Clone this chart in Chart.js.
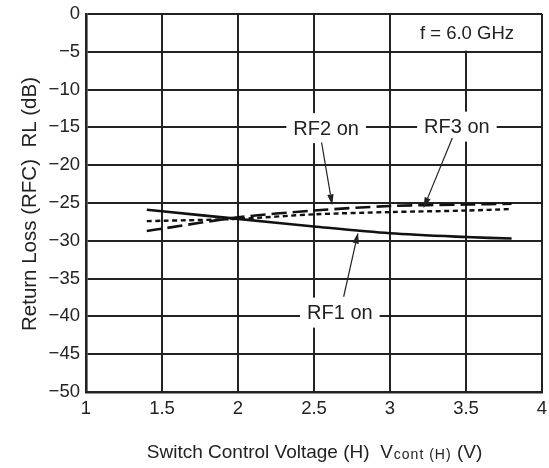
<!DOCTYPE html>
<html>
<head>
<meta charset="utf-8">
<script src="https://cdn.jsdelivr.net/npm/chart.js@4.4.1/dist/chart.umd.min.js"></script>
<style>
html,body{margin:0;padding:0;background:#fff;}
#wrap{width:549px;height:468px;position:relative;}
</style>
</head>
<body>
<div id="wrap"><canvas id="c" width="549" height="468"></canvas></div>
<script>
// ---- data ----
const voltages = [1.4, 1.5, 2.0, 2.5, 3.0, 3.5, 3.8];
const rf1On = [-25.9, -26.1, -27.1, -28.1, -29.0, -29.5, -29.7];
const rf2On = [-28.7, -28.4, -26.9, -26.0, -25.4, -25.2, -25.1];
const rf3On = [-27.4, -27.35, -27.1, -26.5, -26.2, -26.0, -25.8];
const seriesNames = ['RF1 on', 'RF2 on', 'RF3 on'];
const xTicks = [1, 1.5, 2, 2.5, 3, 3.5, 4];
const yTicks = [0, -5, -10, -15, -20, -25, -30, -35, -40, -45, -50];

// annotation placements (data units)
const labels = [
  {text: 'RF2 on', x: 2.58, y: -15.1},
  {text: 'RF3 on', x: 3.44, y: -14.9},
  {text: 'RF1 on', x: 2.67, y: -39.5}
];
const arrows = [
  {from: [2.55, -17.0], to: [2.62, -25.3]},
  {from: [3.41, -16.4], to: [3.22, -25.7]},
  {from: [2.695, -37.4], to: [2.79, -28.9]}
];

const FONT = '"Liberation Sans", Arial, Helvetica, sans-serif';
const mk = (arr) => voltages.map((v, i) => ({x: v, y: arr[i]}));

const overlay = {
  id: 'overlay',
  afterDatasetsDraw(chart) {
    const ctx = chart.ctx, xs = chart.scales.x, ys = chart.scales.y;
    ctx.save();
    // f = 6.0 GHz box (hides the 3.5 grid line in that cell)
    ctx.fillStyle = '#fff';
    const bx0 = xs.getPixelForValue(3) + 1.2, bx1 = xs.getPixelForValue(4) - 1.2;
    const by0 = ys.getPixelForValue(0) + 1.0, by1 = ys.getPixelForValue(-5) - 1.2;
    ctx.fillRect(bx0, by0, bx1 - bx0, by1 - by0);
    ctx.fillStyle = '#222';
    ctx.font = '18.5px ' + FONT;
    ctx.textAlign = 'center';
    ctx.textBaseline = 'middle';
    ctx.fillText('f = 6.0 GHz', (bx0 + bx1) / 2 + 1, (by0 + by1) / 2 + 1);

    // curve labels with white backgrounds
    ctx.font = '20px ' + FONT;
    labels.forEach(l => {
      const px = xs.getPixelForValue(l.x), py = ys.getPixelForValue(l.y);
      const w = ctx.measureText(l.text).width;
      ctx.fillStyle = '#fff';
      ctx.fillRect(px - w / 2 - 7, py - 15, w + 14, 30);
      ctx.fillStyle = '#222';
      ctx.fillText(l.text, px, py + 1);
    });

    // arrows
    ctx.strokeStyle = '#222';
    ctx.fillStyle = '#222';
    ctx.lineWidth = 1.2;
    arrows.forEach(a => {
      const x0 = xs.getPixelForValue(a.from[0]), y0 = ys.getPixelForValue(a.from[1]);
      const x1 = xs.getPixelForValue(a.to[0]), y1 = ys.getPixelForValue(a.to[1]);
      const ang = Math.atan2(y1 - y0, x1 - x0);
      const L = 11, W = 3.2;
      const bx = x1 - L * Math.cos(ang), by = y1 - L * Math.sin(ang);
      ctx.beginPath();
      ctx.moveTo(x0, y0);
      ctx.lineTo(bx, by);
      ctx.stroke();
      ctx.beginPath();
      ctx.moveTo(x1, y1);
      ctx.lineTo(bx + W * Math.sin(ang), by - W * Math.cos(ang));
      ctx.lineTo(bx - W * Math.sin(ang), by + W * Math.cos(ang));
      ctx.closePath();
      ctx.fill();
    });

    // axis titles
    ctx.fillStyle = '#222';
    ctx.textBaseline = 'alphabetic';
    // x title with subscript
    const main = 'Switch Control Voltage (H)  V';
    const sub = 'cont (H)';
    const tail = ' (V)';
    ctx.font = '19px ' + FONT;
    const wMain = ctx.measureText(main).width, wTail = ctx.measureText(tail).width;
    ctx.font = '14px ' + FONT;
    ctx.letterSpacing = '1px';
    const wSub = ctx.measureText(sub).width;
    ctx.letterSpacing = '0px';
    const total = wMain + wSub + wTail;
    let tx = (chart.chartArea.left + chart.chartArea.right) / 2 - total / 2;
    const base = 458;
    ctx.textAlign = 'left';
    ctx.font = '19px ' + FONT;
    ctx.fillText(main, tx, base);
    tx += wMain + 1;
    ctx.font = '14px ' + FONT;
    ctx.letterSpacing = '1px';
    ctx.fillText(sub, tx, base + 1);
    ctx.letterSpacing = '0px';
    tx += wSub;
    ctx.font = '19px ' + FONT;
    ctx.fillText(tail, tx, base);

    // y title
    ctx.save();
    ctx.translate(30, 204);
    ctx.rotate(-Math.PI / 2);
    ctx.textAlign = 'center';
    ctx.textBaseline = 'middle';
    ctx.font = '20.5px ' + FONT;
    ctx.fillText('Return Loss (RFC)  RL (dB)', 0, 0);
    ctx.restore();

    ctx.restore();
  }
};

const minus = v => String(v).replace('-', '\u2212');

new Chart(document.getElementById('c'), {
  type: 'line',
  data: {
    datasets: [
      {label: seriesNames[0], data: mk(rf1On), borderColor: '#111', borderWidth: 2.6, pointRadius: 0, tension: 0.3, fill: false},
      {label: seriesNames[1], data: mk(rf2On), borderColor: '#111', borderWidth: 2.6, borderDash: [15, 6], pointRadius: 0, tension: 0.3, fill: false},
      {label: seriesNames[2], data: mk(rf3On), borderColor: '#111', borderWidth: 2.4, borderDash: [5, 3.5], pointRadius: 0, tension: 0.3, fill: false}
    ]
  },
  options: {
    responsive: false,
    animation: false,
    devicePixelRatio: 1,
    layout: {padding: {top: 14, right: 7, left: 0, bottom: 0}},
    plugins: {legend: {display: false}, tooltip: {enabled: false}},
    scales: {
      x: {
        type: 'linear', min: 1, max: 4,
        afterBuildTicks: s => { s.ticks = xTicks.map(v => ({value: v})); },
        afterFit: s => { s.height = 76; s.paddingLeft = 0; s.paddingRight = 0; },
        grid: {color: '#222', lineWidth: 2, drawTicks: false},
        border: {color: '#222', width: 2.6},
        ticks: {color: '#222', font: {family: FONT, size: 18.5}, padding: 6, maxRotation: 0, callback: v => minus(v)}
      },
      y: {
        type: 'linear', min: -50, max: 0,
        afterBuildTicks: s => { s.ticks = yTicks.map(v => ({value: v})); },
        afterFit: s => { s.width = 86; s.paddingTop = 0; s.paddingBottom = 0; },
        grid: {color: '#222', lineWidth: 2, drawTicks: false},
        border: {color: '#222', width: 2.6},
        ticks: {color: '#222', font: {family: FONT, size: 18.5}, padding: 6, callback: v => minus(v)}
      }
    }
  },
  plugins: [overlay]
});
</script>
</body>
</html>
